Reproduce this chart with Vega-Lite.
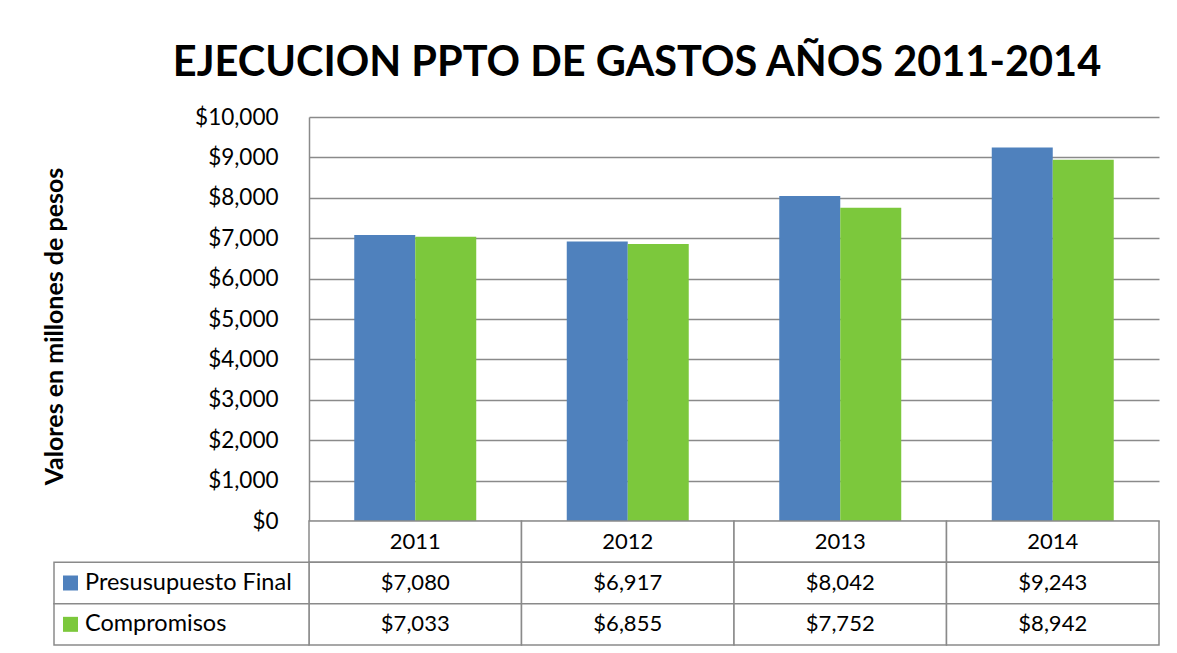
{
  "$schema": "https://vega.github.io/schema/vega-lite/v6.json",
  "width": 850,
  "height": 404,
  "autosize": {"type": "none"},
  "padding": {"left": 309, "top": 117, "right": 18, "bottom": 132},
  "background": "white",
  "config": {"font": "Lato", "view": {"stroke": null}},
  "title": {
    "text": "EJECUCION PPTO DE GASTOS AÑOS 2011-2014",
    "font": "Lato",
    "fontSize": 41.5,
    "fontWeight": "bold",
    "color": "black",
    "anchor": "middle",
    "dx": -97,
    "offset": 22
  },
  "data": {
    "values": [
      {"year": "2011", "series": "Presusupuesto Final", "value": 7080},
      {"year": "2012", "series": "Presusupuesto Final", "value": 6917},
      {"year": "2013", "series": "Presusupuesto Final", "value": 8042},
      {"year": "2014", "series": "Presusupuesto Final", "value": 9243},
      {"year": "2011", "series": "Compromisos", "value": 7033},
      {"year": "2012", "series": "Compromisos", "value": 6855},
      {"year": "2013", "series": "Compromisos", "value": 7752},
      {"year": "2014", "series": "Compromisos", "value": 8942}
    ]
  },
  "layer": [
    {
      "mark": {"type": "bar"},
      "encoding": {
        "x": {"field": "year", "type": "nominal", "scale": {"type": "band", "paddingInner": 0, "paddingOuter": 0}, "axis": null},
        "xOffset": {"field": "series", "type": "nominal", "scale": {"domain": ["Presusupuesto Final", "Compromisos"], "paddingInner": 0, "paddingOuter": 0.742}},
        "y": {
          "field": "value",
          "type": "quantitative",
          "scale": {"domain": [0, 10000], "nice": false},
          "axis": {
            "values": [0, 1000, 2000, 3000, 4000, 5000, 6000, 7000, 8000, 9000, 10000],
            "format": "$,.0f",
            "grid": true,
            "gridColor": "#8a8a8a",
            "gridWidth": 1.5,
            "domainColor": "#8a8a8a",
            "domainWidth": 1.5,
            "ticks": false,
            "labelPadding": 31,
            "labelFontSize": 22.5,
            "labelColor": "black",
            "labelFont": "Lato",
            "title": "Valores en millones de pesos",
            "titleFont": "Lato",
            "titleFontSize": 25,
            "titleFontWeight": "bold",
            "titleColor": "black",
            "titleX": -255,
            "titleY": 209,
            "titleAngle": -90,
            "titleAlign": "center",
            "titleBaseline": "middle"
          }
        },
        "color": {"field": "series", "type": "nominal", "scale": {"domain": ["Presusupuesto Final", "Compromisos"], "range": ["#4F81BD", "#7CC83C"]}, "legend": null}
      }
    },
    {
      "transform": [{"filter": "datum.series == 'Presusupuesto Final'"}],
      "mark": {"type": "rect", "fill": "white", "stroke": "#8a8a8a", "strokeWidth": 1.5},
      "encoding": {
        "x": {"field": "year", "type": "nominal", "scale": {"type": "band", "paddingInner": 0, "paddingOuter": 0}, "axis": null},
        "y": {"datum": "header", "type": "nominal", "scale": {"type": "band", "domain": ["header", "Presusupuesto Final", "Compromisos"], "range": [404, 528], "paddingInner": 0, "paddingOuter": 0}, "axis": null}
      }
    },
    {
      "mark": {"type": "rect", "fill": "white", "stroke": "#8a8a8a", "strokeWidth": 1.5},
      "encoding": {
        "x": {"field": "year", "type": "nominal", "scale": {"type": "band", "paddingInner": 0, "paddingOuter": 0}, "axis": null},
        "y": {"field": "series", "type": "nominal", "scale": {"type": "band", "domain": ["header", "Presusupuesto Final", "Compromisos"], "range": [404, 528], "paddingInner": 0, "paddingOuter": 0}, "axis": null}
      }
    },
    {
      "transform": [{"filter": "datum.year == '2011'"}],
      "mark": {"type": "rect", "fill": "white", "stroke": "#8a8a8a", "strokeWidth": 1.5},
      "encoding": {
        "x": {"datum": "label", "type": "nominal", "scale": {"type": "band", "domain": ["label"], "range": [-255, 0], "paddingInner": 0, "paddingOuter": 0}, "axis": null},
        "y": {"field": "series", "type": "nominal", "scale": {"type": "band", "domain": ["header", "Presusupuesto Final", "Compromisos"], "range": [404, 528], "paddingInner": 0, "paddingOuter": 0}, "axis": null}
      }
    },
    {
      "transform": [{"filter": "datum.series == 'Presusupuesto Final'"}],
      "mark": {"type": "text", "fontSize": 22, "color": "black", "font": "Lato"},
      "encoding": {
        "x": {"field": "year", "type": "nominal", "scale": {"type": "band", "paddingInner": 0, "paddingOuter": 0}, "axis": null},
        "y": {"datum": "header", "type": "nominal", "scale": {"type": "band", "domain": ["header", "Presusupuesto Final", "Compromisos"], "range": [404, 528], "paddingInner": 0, "paddingOuter": 0}, "axis": null},
        "text": {"field": "year", "type": "nominal"}
      }
    },
    {
      "mark": {"type": "text", "fontSize": 22, "color": "black", "font": "Lato"},
      "encoding": {
        "x": {"field": "year", "type": "nominal", "scale": {"type": "band", "paddingInner": 0, "paddingOuter": 0}, "axis": null},
        "y": {"field": "series", "type": "nominal", "scale": {"type": "band", "domain": ["header", "Presusupuesto Final", "Compromisos"], "range": [404, 528], "paddingInner": 0, "paddingOuter": 0}, "axis": null},
        "text": {"field": "value", "type": "quantitative", "format": "$,.0f"}
      }
    },
    {
      "transform": [{"filter": "datum.year == '2011'"}],
      "mark": {"type": "text", "fontSize": 23.5, "color": "black", "font": "Lato", "align": "left", "dx": 31},
      "encoding": {
        "x": {"datum": "label", "type": "nominal", "bandPosition": 0, "scale": {"type": "band", "domain": ["label"], "range": [-255, 0], "paddingInner": 0, "paddingOuter": 0}, "axis": null},
        "y": {"field": "series", "type": "nominal", "scale": {"type": "band", "domain": ["header", "Presusupuesto Final", "Compromisos"], "range": [404, 528], "paddingInner": 0, "paddingOuter": 0}, "axis": null},
        "text": {"field": "series", "type": "nominal"}
      }
    },
    {
      "transform": [{"filter": "datum.year == '2011'"}],
      "mark": {"type": "point", "shape": "square", "filled": true, "size": 225, "opacity": 1},
      "encoding": {
        "x": {"datum": "sq", "type": "nominal", "scale": {"type": "band", "domain": ["sq"], "range": [-246, -231], "paddingInner": 0, "paddingOuter": 0}, "axis": null},
        "y": {"field": "series", "type": "nominal", "scale": {"type": "band", "domain": ["header", "Presusupuesto Final", "Compromisos"], "range": [404, 528], "paddingInner": 0, "paddingOuter": 0}, "axis": null},
        "color": {"field": "series", "type": "nominal", "scale": {"domain": ["Presusupuesto Final", "Compromisos"], "range": ["#4F81BD", "#7CC83C"]}, "legend": null}
      }
    }
  ],
  "resolve": {"scale": {"x": "independent", "y": "independent", "color": "independent"}}
}
